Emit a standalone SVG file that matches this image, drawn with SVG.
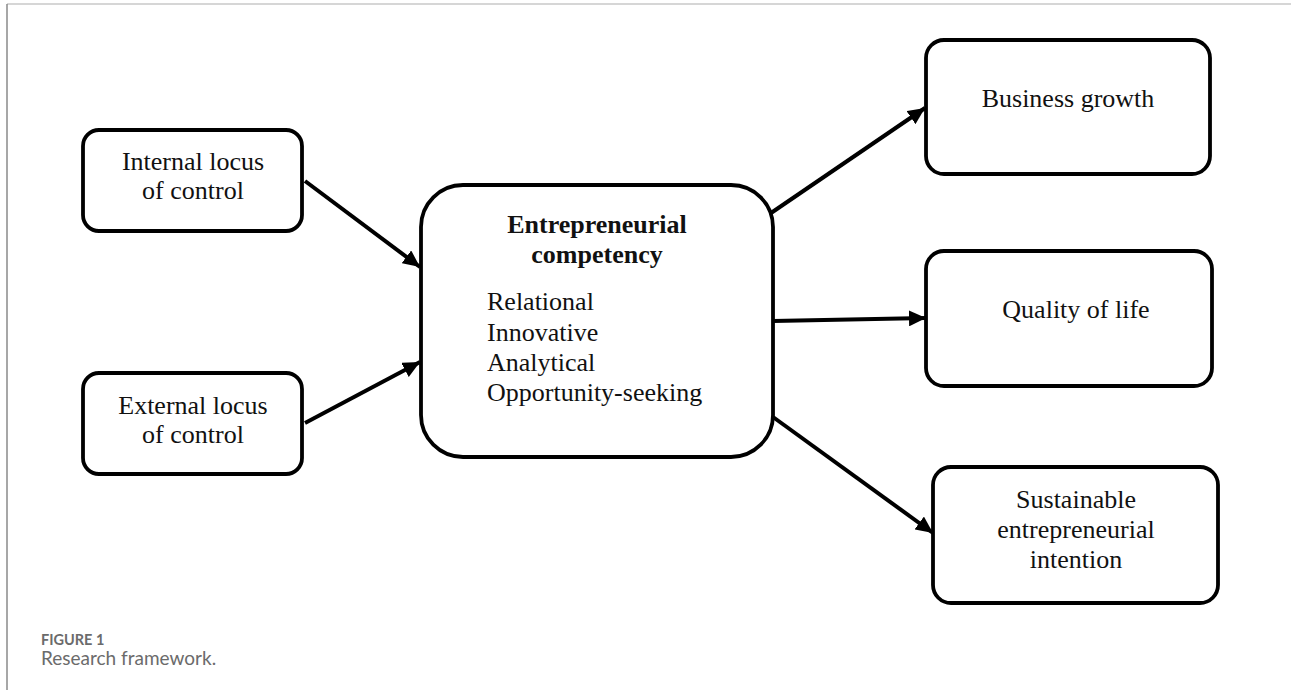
<svg xmlns="http://www.w3.org/2000/svg" width="1291" height="690" viewBox="0 0 1291 690">
<style>
.box{fill:#fff;stroke:#000;stroke-width:3.8}
.t{font-family:"Liberation Serif","Times New Roman",serif;font-size:26px;fill:#111}
.c{text-anchor:middle}
.b{font-weight:bold}
.conn{stroke:#000;stroke-width:4;fill:none;marker-end:url(#ah)}
.cap{font-family:Lato,"Open Sans","Liberation Sans",sans-serif;fill:#6b6b6b}
</style>
<defs>
<marker id="ah" markerUnits="userSpaceOnUse" markerWidth="18" markerHeight="16" refX="17" refY="8" orient="auto">
<path d="M0,0 L17,8 L0,16 Z" fill="#000"/>
</marker>
</defs>
<rect x="0" y="0" width="1291" height="690" fill="#fff"/>
<line x1="7" y1="4" x2="1291" y2="4" stroke="#c8c8c8" stroke-width="1.5"/>
<line x1="7" y1="4" x2="7" y2="690" stroke="#8a8a8a" stroke-width="1.5"/>
<g id="connectors">
<line class="conn" x1="305" y1="181" x2="420" y2="267"/>
<line class="conn" x1="305" y1="423" x2="420" y2="362"/>
<line class="conn" x1="771" y1="213" x2="925" y2="108"/>
<line class="conn" x1="773" y1="321" x2="926" y2="318"/>
<line class="conn" x1="773" y1="417" x2="933" y2="533"/>
</g>
<g id="internal">
<rect class="box" x="83" y="130" width="219" height="101" rx="16"/>
<text class="t c" x="193" y="170">Internal locus</text>
<text class="t c" x="193" y="199">of control</text>
</g>
<g id="external">
<rect class="box" x="83" y="373" width="219" height="101" rx="16"/>
<text class="t c" x="193" y="414">External locus</text>
<text class="t c" x="193" y="443">of control</text>
</g>
<g id="competency">
<rect class="box" x="421" y="185" width="352" height="272" rx="42" stroke-width="4"/>
<text class="t c b" x="597" y="233">Entrepreneurial</text>
<text class="t c b" x="597" y="263">competency</text>
<text class="t" x="487" y="310">Relational</text>
<text class="t" x="487" y="341">Innovative</text>
<text class="t" x="487" y="371">Analytical</text>
<text class="t" x="487" y="401">Opportunity-seeking</text>
</g>
<g id="business">
<rect class="box" x="926" y="40" width="284" height="134" rx="18"/>
<text class="t c" x="1068" y="107">Business growth</text>
</g>
<g id="quality">
<rect class="box" x="926" y="251" width="286" height="135" rx="18"/>
<text class="t c" x="1076" y="318">Quality of life</text>
</g>
<g id="sustainable">
<rect class="box" x="933" y="467" width="285" height="136" rx="18"/>
<text class="t c" x="1076" y="508">Sustainable</text>
<text class="t c" x="1076" y="538">entrepreneurial</text>
<text class="t c" x="1076" y="568">intention</text>
</g>
<g id="caption">
<text class="cap" x="41" y="645" font-size="14.5" font-weight="bold">FIGURE 1</text>
<text class="cap" x="41" y="665" font-size="19">Research framework.</text>
</g>
</svg>
